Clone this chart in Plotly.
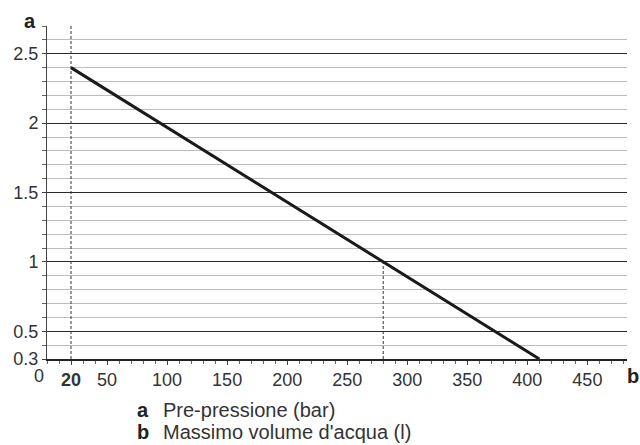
import plotly.graph_objects as go

# curve: max water volume vs pre-pressure
line_x = [20, 410]
line_y = [2.4, 0.3]

# dashed reference lines (x position, top value)
ref_x = [20, 280]
ref_top = [2.7, 1.0]

y_ticks = [0.3, 0.5, 1, 1.5, 2, 2.5]
y_labels = ['0.3', '0.5', '1', '1.5', '2', '2.5']
x_ticks = [20, 50, 100, 150, 200, 250, 300, 350, 400, 450]
x_labels = ['<b>20</b>', '50', '100', '150', '200', '250', '300', '350', '400', '450']

y_minor = [round(0.3 + 0.1 * i, 1) for i in range(25)]

font = 'Liberation Sans, Arial, sans-serif'
fig = go.Figure()

# dashed reference lines
for xv, top in zip(ref_x, ref_top):
    fig.add_trace(go.Scatter(
        x=[xv, xv], y=[0.3, top], mode='lines',
        line=dict(color='#333', width=1, dash='3px,2px'),
        hoverinfo='skip', showlegend=False
    ))

fig.add_trace(go.Scatter(
    x=line_x, y=line_y, mode='lines',
    line=dict(color='#1a1a1a', width=3),
    showlegend=False
))

fig.update_layout(
    width=640, height=445,
    margin=dict(l=47, r=13, t=26, b=86),
    plot_bgcolor='white', paper_bgcolor='white',
    font=dict(family=font, size=18, color='#333'),
    xaxis=dict(
        range=[0, 483], showgrid=False, zeroline=False,
        showline=True, linecolor='#222', linewidth=1.5,
        tickmode='array', tickvals=x_ticks, ticktext=x_labels,
        ticks='outside', ticklen=4, tickcolor='#444',
        minor=dict(dtick=10, tick0=0, ticks='outside', ticklen=3, tickcolor='#666'),
        tickfont=dict(size=18, color='#333'),
    ),
    yaxis=dict(
        range=[0.3, 2.7], zeroline=False,
        showline=True, linecolor='#444', linewidth=1,
        tickmode='array', tickvals=y_ticks, ticktext=y_labels,
        ticks='outside', ticklen=4, tickcolor='#444',
        showgrid=True, gridcolor='#2a2a2a', gridwidth=1,
        minor=dict(tickmode='array', tickvals=y_minor, ticks='outside', ticklen=4,
                   tickcolor='#666', showgrid=True, gridcolor='#bdbdbd', gridwidth=1),
        tickfont=dict(size=18, color='#333'),
    ),
)

fig.add_annotation(x=0, y=0.3, xref='x', yref='y', text='0', showarrow=False,
                   xshift=-8, yshift=-17, font=dict(size=18, color='#333'))
fig.add_annotation(xref='paper', yref='paper', x=-0.029, y=1.015, text='<b>a</b>',
                   showarrow=False, xanchor='center', yanchor='middle',
                   font=dict(size=20, color='#222'))
fig.add_annotation(xref='paper', yref='paper', x=1.01, y=-0.051, text='<b>b</b>',
                   showarrow=False, xanchor='center', yanchor='middle',
                   font=dict(size=20, color='#222'))

legend_rows = [('a', 'Pre-pressione (bar)'), ('b', "Massimo volume d'acqua (l)")]
for i, (k, txt) in enumerate(legend_rows):
    yp = -0.153 - i * 0.066
    fig.add_annotation(xref='paper', yref='paper', x=0.152, y=yp,
                       text=f'<b>{k}</b>', showarrow=False, xanchor='left', yanchor='middle',
                       font=dict(size=20, color='#222'))
    fig.add_annotation(xref='paper', yref='paper', x=0.197, y=yp,
                       text=txt, showarrow=False, xanchor='left', yanchor='middle',
                       font=dict(size=20, color='#333'))

fig.write_html("out.html", config={'displayModeBar': False},
               post_script="document.body.style.margin='0';")
